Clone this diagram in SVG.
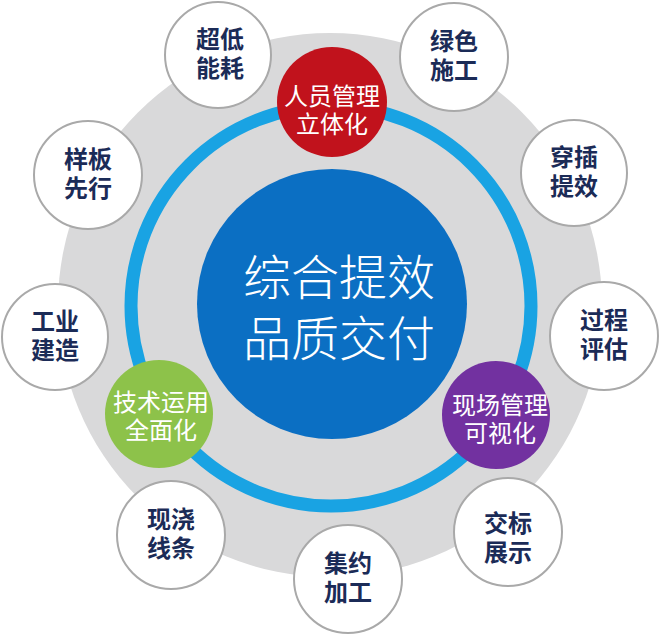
<svg xmlns="http://www.w3.org/2000/svg" width="659" height="635" viewBox="0 0 659 635">
<style>
.outer circle{fill:#ffffff;stroke:#a9a9a9;stroke-width:2}
.outer text{font-family:"Liberation Sans","Noto Sans CJK SC",sans-serif;font-size:24px;font-weight:bold;fill:#1b2b57;text-anchor:middle}
.key text{font-family:"Liberation Sans","Noto Sans CJK SC",sans-serif;font-size:24px;fill:#ffffff;text-anchor:middle}
.core text{font-family:"Liberation Sans","Noto Sans CJK SC",sans-serif;font-size:48px;font-weight:300;fill:#ffffff;text-anchor:middle}
</style>
<rect width="659" height="635" fill="#ffffff"/>
<g id="backdrop">
<circle cx="330" cy="305" r="272" fill="#d9d9da"/>
</g>
<g id="connectors">
<circle cx="331" cy="306" r="200" fill="none" stroke="#19a3e3" stroke-width="13"/>
</g>
<g id="core" class="core">
<circle cx="332" cy="304" r="135" fill="#0b6fc3"/>
<text x="339" y="295">综合提效</text>
<text x="339" y="356">品质交付</text>
</g>
<g id="key-people" class="key">
<circle cx="332" cy="102" r="55" fill="#c1121c"/>
<text x="332" y="105">人员管理</text>
<text x="332" y="133">立体化</text>
</g>
<g id="key-tech" class="key">
<circle cx="159" cy="414" r="54" fill="#8dc24a"/>
<text x="161" y="411">技术运用</text>
<text x="161" y="439">全面化</text>
</g>
<g id="key-site" class="key">
<circle cx="496" cy="415" r="54" fill="#7231a0"/>
<text x="500" y="414">现场管理</text>
<text x="500" y="442">可视化</text>
</g>
<g id="n1" class="outer">
<circle cx="218" cy="55" r="53"/>
<text x="220" y="48">超低</text>
<text x="220" y="77">能耗</text>
</g>
<g id="n2" class="outer">
<circle cx="454" cy="57" r="54"/>
<text x="454" y="50">绿色</text>
<text x="454" y="79">施工</text>
</g>
<g id="n3" class="outer">
<circle cx="574" cy="173" r="53"/>
<text x="574" y="166">穿插</text>
<text x="574" y="195">提效</text>
</g>
<g id="n4" class="outer">
<circle cx="604" cy="336" r="54"/>
<text x="604" y="329">过程</text>
<text x="604" y="358">评估</text>
</g>
<g id="n5" class="outer">
<circle cx="508" cy="532" r="54"/>
<text x="508" y="532">交标</text>
<text x="508" y="561">展示</text>
</g>
<g id="n6" class="outer">
<circle cx="348" cy="579" r="54"/>
<text x="348" y="572">集约</text>
<text x="348" y="601">加工</text>
</g>
<g id="n7" class="outer">
<circle cx="171" cy="535" r="54"/>
<text x="171" y="528">现浇</text>
<text x="171" y="557">线条</text>
</g>
<g id="n8" class="outer">
<circle cx="55" cy="337" r="53"/>
<text x="55" y="330">工业</text>
<text x="55" y="359">建造</text>
</g>
<g id="n9" class="outer">
<circle cx="88" cy="175" r="54"/>
<text x="88" y="168">样板</text>
<text x="88" y="197">先行</text>
</g>
</svg>
